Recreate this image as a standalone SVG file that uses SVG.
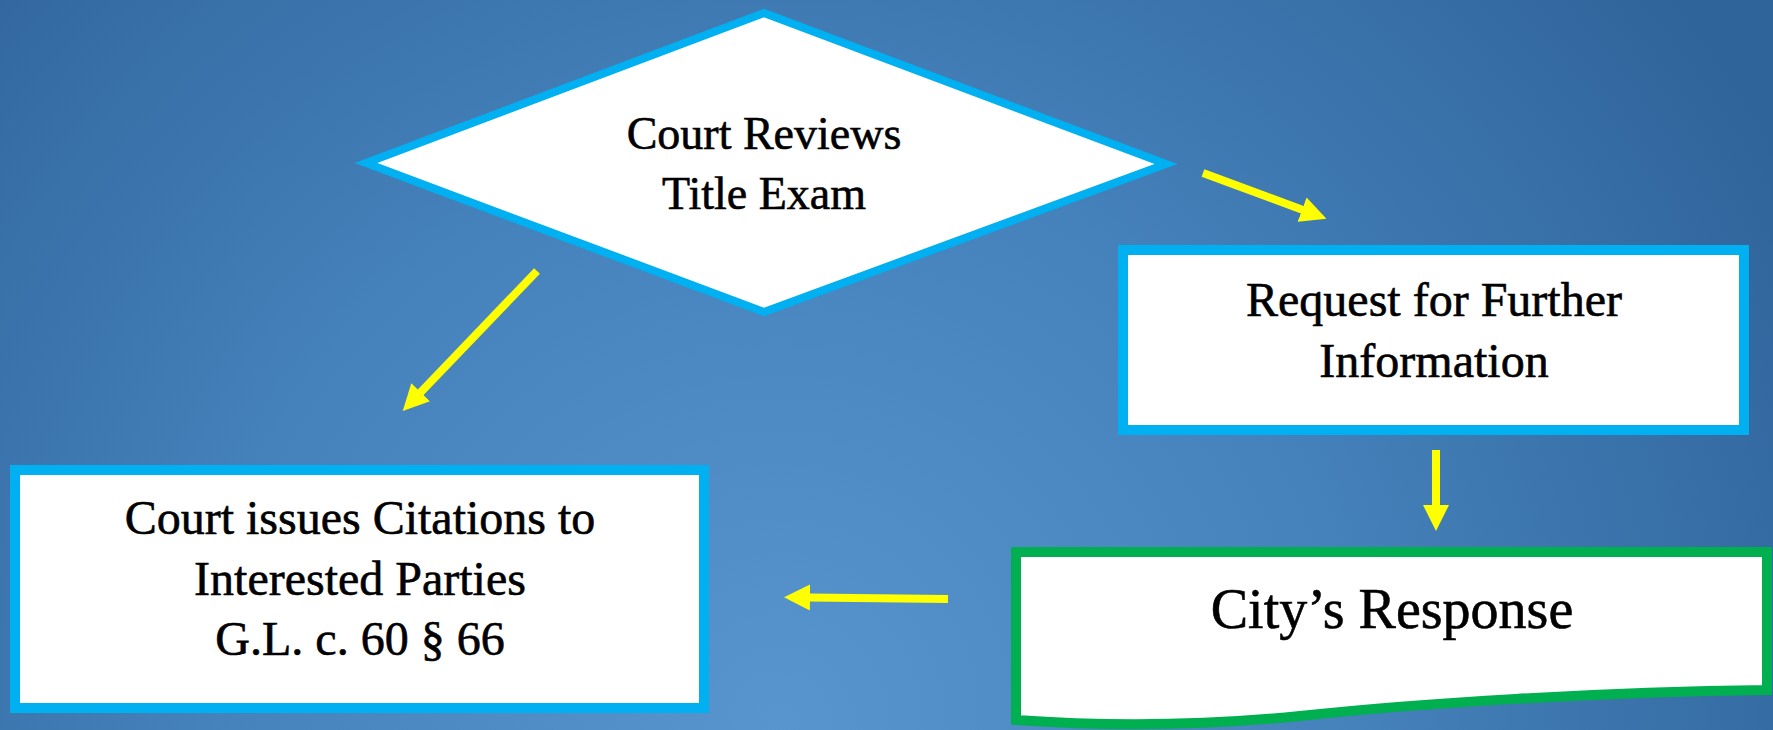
<svg xmlns="http://www.w3.org/2000/svg" width="1773" height="730" viewBox="0 0 1773 730">
  <defs>
    <radialGradient id="bg" gradientUnits="userSpaceOnUse" cx="780" cy="720" r="1150" fx="780" fy="720">
      <stop offset="0" stop-color="#5894cd"/>
      <stop offset="0.5" stop-color="#4581bb"/>
      <stop offset="1" stop-color="#2f649a"/>
    </radialGradient>
    <marker id="ah" viewBox="0 0 26 26" refX="1" refY="13" markerWidth="26" markerHeight="26" markerUnits="userSpaceOnUse" orient="auto">
      <path d="M0,0 L26,13 L0,26 Z" fill="#ffff00"/>
    </marker>
    <style>
      .box { fill: #ffffff; stroke: #00b0f0; stroke-width: 10; }
      .dia { fill: #ffffff; stroke: #00b0f0; stroke-width: 8; }
      .doc { fill: #ffffff; stroke: #00b050; stroke-width: 10; }
      .lbl { font-family: "Liberation Serif", "Times New Roman", serif; font-size: 48px; fill: #000000; stroke: #000000; stroke-width: 0.6; text-anchor: middle; }
      .sm { font-size: 46px; }
      .big { font-size: 56px; }
      .arr { stroke: #ffff00; stroke-width: 8; fill: none; marker-end: url(#ah); }
    </style>
  </defs>
  <rect x="0" y="0" width="1773" height="730" fill="url(#bg)"/>

  <g id="node-review">
    <polygon class="dia" points="764,13 1166,164 764,312 366,163"/>
    <text class="lbl sm" x="764" y="149">Court Reviews</text>
    <text class="lbl sm" x="764" y="209">Title Exam</text>
  </g>

  <g id="node-request">
    <rect class="box" x="1123" y="250" width="621" height="180"/>
    <text class="lbl" x="1434" y="316">Request for Further</text>
    <text class="lbl" x="1434" y="377">Information</text>
  </g>

  <g id="node-citations">
    <rect class="box" x="15" y="470" width="689" height="238"/>
    <text class="lbl" x="360" y="534">Court issues Citations to</text>
    <text class="lbl" x="360" y="595">Interested Parties</text>
    <text class="lbl" x="360" y="655">G.L. c. 60 § 66</text>
  </g>

  <g id="node-response">
    <path class="doc" d="M1016,552 H1767 V690 C1600,692 1420,703 1300,716 C1200,726 1100,726 1016,720 Z"/>
    <text class="lbl big" x="1392" y="628">City’s Response</text>
  </g>

  <g id="connectors">
    <line class="arr" x1="1203" y1="173" x2="1303" y2="210"/>
    <line class="arr" x1="537" y1="271" x2="420" y2="393"/>
    <line class="arr" x1="1436" y1="450" x2="1436" y2="506"/>
    <line class="arr" x1="948" y1="599" x2="809" y2="597.5"/>
  </g>
</svg>
